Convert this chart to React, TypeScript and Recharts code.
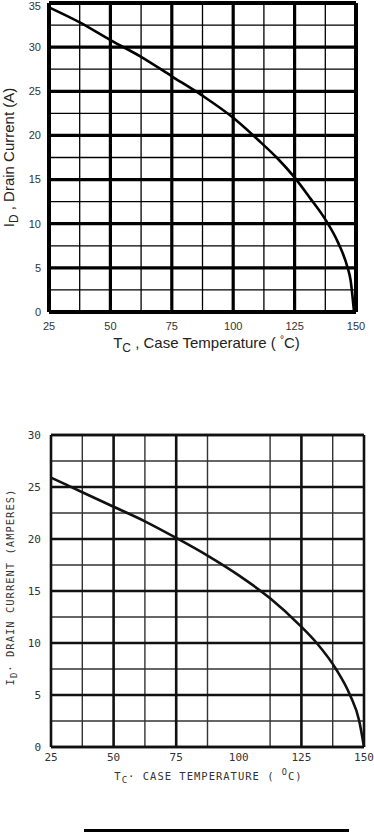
import React from 'react';
import { LineChart, Line, XAxis, YAxis, CartesianGrid } from 'recharts';

// ---- Chart 1 (top) ----
const temps1 = [25, 37.5, 50, 62.5, 75, 87.5, 100, 110.9, 117.7, 124.8, 131.3, 137.7, 142.8, 146.5, 147.8, 149.2];
const current1 = [34.5, 32.8, 30.8, 28.9, 26.7, 24.5, 22.0, 19.3, 17.5, 15.3, 12.9, 10.4, 7.8, 5.1, 3.6, 0];
const xTicks1 = [25, 50, 75, 100, 125, 150];
const yTicks1 = [0, 5, 10, 15, 20, 25, 30, 35];
const xMinor1 = [37.5, 62.5, 87.5, 112.5, 137.5];
const yMinor1 = [2.5, 7.5, 12.5, 17.5, 22.5, 27.5, 32.5];

// ---- Chart 2 (bottom) ----
const temps2 = [25, 37.5, 50, 62.5, 75, 87.5, 100, 112.5, 124.4, 131.1, 138.8, 144.4, 148.1, 150];
const current2 = [25.9, 24.5, 23.1, 21.7, 20.1, 18.4, 16.5, 14.3, 11.7, 10, 7.5, 5, 2.5, 0];
const xTicks2 = [25, 50, 75, 100, 125, 150];
const yTicks2 = [0, 5, 10, 15, 20, 25, 30];
const xMajor2 = [50, 75, 125];
const xMinor2 = [37.5, 62.5, 87.5, 100, 112.5, 137.5];
const yMinor2 = [2.5, 7.5, 12.5, 17.5, 22.5, 27.5];

const data1 = temps1.map((t, i) => ({ t, id: current1[i] }));
const data2 = temps2.map((t, i) => ({ t, id: current2[i] }));

const F1 = '"Liberation Sans", Arial, sans-serif';
const F2 = '"DejaVu Sans Mono", monospace';

const XTitle1 = (props: any) => {
  const vb = props.viewBox;
  const cx = vb.x + vb.width / 2 + 4;
  return (
    <text x={cx} y={vb.y + 36} textAnchor="middle" fontFamily={F1} fontSize={15} fill="#222">
      T<tspan dy={4} fontSize={12}>C</tspan>
      <tspan dy={-4}> , Case Temperature  ( </tspan>
      <tspan dy={-5} fontSize={10}>°</tspan>
      <tspan dy={5}>C)</tspan>
    </text>
  );
};

const YTitle1 = (props: any) => {
  const vb = props.viewBox;
  const cy = vb.y + vb.height / 2;
  return (
    <text x={14} y={cy} transform={`rotate(-90, 14, ${cy})`} textAnchor="middle" fontFamily={F1} fontSize={15} fill="#222">
      I<tspan dy={4} fontSize={12}>D</tspan>
      <tspan dy={-4}> , Drain Current (A)</tspan>
    </text>
  );
};

const XTitle2 = (props: any) => {
  const vb = props.viewBox;
  const cx = vb.x + vb.width / 2 + 1;
  return (
    <text x={cx} y={vb.y + 33} textAnchor="middle" fontFamily={F2} fontSize={10.5} letterSpacing={1} fill="#333">
      T<tspan dy={3} fontSize={9}>C</tspan>
      <tspan dy={-3}>·  CASE TEMPERATURE ( </tspan>
      <tspan dy={-5} fontSize={8.5}>O</tspan>
      <tspan dy={5}>C)</tspan>
    </text>
  );
};

const YTitle2 = (props: any) => {
  const vb = props.viewBox;
  const cy = vb.y + vb.height / 2 - 4;
  return (
    <text x={14} y={cy} transform={`rotate(-90, 14, ${cy})`} textAnchor="middle" fontFamily={F2} fontSize={10.5} letterSpacing={1} fill="#333">
      I<tspan dy={3} fontSize={9}>D</tspan>
      <tspan dy={-3}>·  DRAIN CURRENT  (AMPERES)</tspan>
    </text>
  );
};

export default function App() {
  return (
    <div style={{ position: 'absolute', left: 0, top: 0, width: 374, height: 833, background: '#fff' }}>
      <div style={{ position: 'absolute', left: 0, top: 0 }}>
        <LineChart width={374} height={360} data={data1} margin={{ top: 3, right: 18, bottom: 18, left: 0 }}>
          <CartesianGrid horizontalValues={yMinor1} verticalValues={xMinor1} stroke="#000" strokeWidth={1.3} />
          <CartesianGrid horizontalValues={yTicks1} verticalValues={xTicks1} stroke="#000" strokeWidth={3.2} />
          <CartesianGrid horizontalValues={[0, 35]} verticalValues={[25, 150]} stroke="#000" strokeWidth={4} />
          <XAxis
            type="number"
            dataKey="t"
            domain={[25, 150]}
            ticks={xTicks1}
            height={30}
            axisLine={false}
            tickLine={false}
            tickMargin={4}
            tick={{ fill: '#333', fontSize: 11, fontFamily: F1 }}
            label={{ content: XTitle1 }}
          />
          <YAxis
            type="number"
            domain={[0, 35]}
            ticks={yTicks1}
            width={49}
            axisLine={false}
            tickLine={false}
            tick={{ fill: '#333', fontSize: 11, fontFamily: F1 }}
            label={{ content: YTitle1 }}
          />
          <Line type="monotone" dataKey="id" stroke="#000" strokeWidth={2.6} dot={false} isAnimationActive={false} />
        </LineChart>
      </div>
      <div style={{ position: 'absolute', left: 0, top: 420 }}>
        <LineChart width={374} height={380} data={data2} margin={{ top: 15, right: 10, bottom: 23, left: 0 }}>
          <CartesianGrid horizontalValues={yMinor2} verticalValues={xMinor2} stroke="#333" strokeWidth={1.4} />
          <CartesianGrid horizontalValues={yTicks2} verticalValues={xMajor2} stroke="#111" strokeWidth={2.6} />
          <CartesianGrid horizontalValues={[0, 30]} verticalValues={[25, 150]} stroke="#111" strokeWidth={2.6} />
          <XAxis
            type="number"
            dataKey="t"
            domain={[25, 150]}
            ticks={xTicks2}
            height={30}
            axisLine={false}
            tickLine={false}
            tickMargin={0}
            tick={{ fill: '#333', fontSize: 11, fontFamily: F2 }}
            label={{ content: XTitle2 }}
          />
          <YAxis
            type="number"
            domain={[0, 30]}
            ticks={yTicks2}
            width={51}
            axisLine={false}
            tickLine={false}
            tickMargin={4}
            tick={{ fill: '#333', fontSize: 11, fontFamily: F2 }}
            label={{ content: YTitle2 }}
          />
          <Line type="monotone" dataKey="id" stroke="#111" strokeWidth={2.6} dot={false} isAnimationActive={false} />
        </LineChart>
      </div>
      <div style={{ position: 'absolute', left: 84, top: 829, width: 265, height: 3, background: '#000' }} />
    </div>
  );
}
